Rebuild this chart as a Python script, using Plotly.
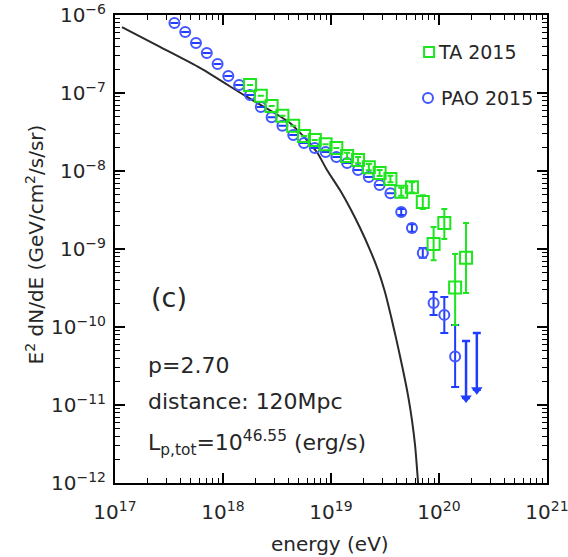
import numpy as np
import plotly.graph_objects as go

# ---------------- data ----------------
# Model spectrum (p = 2.70, 120 Mpc): energy [eV], E^2 dN/dE [GeV/cm^2/s/sr]
model_E = [1.16e17, 2.61e17, 6.12e17, 1.67e18, 3.03e18, 4.20e18, 5.16e18,
           6.2e18, 7.5e18, 9.18e18, 1.21e19, 1.50e19, 1.86e19, 2.30e19,
           2.72e19, 3.16e19, 3.59e19, 4.08e19, 4.64e19, 5.16e19, 5.62e19,
           6.0e19, 6.40e19, 6.6e19]
model_F = [7.0e-7, 3.9e-7, 2.1e-7, 8.9e-8, 5.5e-8, 4.1e-8, 3.1e-8,
           2.35e-8, 1.7e-8, 1.03e-8, 5.7e-9, 3.36e-9, 1.86e-9, 9.7e-10,
           5.4e-10, 2.81e-10, 1.38e-10, 6.4e-11, 2.81e-11, 1.34e-11, 6.4e-12,
           3.07e-12, 1.0e-12, 5.2e-13]

# Pierre Auger Observatory 2015
pao_E = [3.55e17, 4.47e17, 5.62e17, 7.08e17, 8.91e17, 1.12e18, 1.41e18,
         1.78e18, 2.24e18, 2.82e18, 3.55e18, 4.47e18, 5.62e18, 7.08e18,
         8.91e18, 1.12e19, 1.41e19, 1.78e19, 2.24e19, 2.82e19, 3.55e19,
         4.47e19, 5.62e19, 7.08e19, 8.91e19, 1.12e20, 1.41e20]
pao_F = [7.9e-7, 6.05e-7, 4.38e-7, 3.26e-7, 2.35e-7, 1.65e-7, 1.27e-7,
         9.4e-8, 6.6e-8, 4.9e-8, 3.8e-8, 2.9e-8, 2.29e-8, 1.97e-8,
         1.75e-8, 1.51e-8, 1.27e-8, 1.03e-8, 8.4e-9, 6.6e-9, 5.2e-9,
         2.98e-9, 1.86e-9, 8.9e-10, 2.03e-10, 1.43e-10, 4.2e-11]
pao_hi = [None] * 21 + [3.26e-9, 2.08e-9, 1.03e-9, 2.81e-10, 2.43e-10, 1.06e-10]
pao_lo = [None] * 21 + [2.72e-9, 1.66e-9, 7.7e-10, 1.43e-10, 8.4e-11, 1.7e-11]

# PAO upper limits
pao_ul_E = [1.78e20, 2.24e20]
pao_ul_F = [6.6e-11, 8.4e-11]
ul_arrow_decades = 0.73

# Telescope Array 2015
ta_E = [1.78e18, 2.24e18, 2.82e18, 3.55e18, 4.47e18, 5.62e18, 7.08e18,
        8.91e18, 1.12e19, 1.41e19, 1.78e19, 2.24e19, 2.82e19, 3.55e19,
        4.47e19, 5.62e19, 7.08e19, 8.91e19, 1.12e20, 1.41e20, 1.78e20]
ta_F = [1.27e-7, 9.2e-8, 6.8e-8, 5.1e-8, 3.8e-8, 2.8e-8, 2.5e-8,
        2.2e-8, 1.97e-8, 1.56e-8, 1.38e-8, 1.12e-8, 9.4e-9, 7.9e-9,
        5.4e-9, 6.2e-9, 4.0e-9, 1.16e-9, 2.15e-9, 3.2e-10, 7.7e-10]
ta_hi = [None] * 9 + [1.71e-8, 1.51e-8, 1.23e-8, 1.03e-8, 8.7e-9, 6.1e-9,
                      7.2e-9, 4.9e-9, 1.91e-9, 3.26e-9, 8.6e-10, 2.15e-9]
ta_lo = [None] * 9 + [1.42e-8, 1.26e-8, 1.02e-8, 8.6e-9, 7.2e-9, 4.8e-9,
                      5.3e-9, 3.25e-9, 7.2e-10, 1.34e-9, 1.06e-10, 2.73e-10]

x_ticks = [1e17, 1e18, 1e19, 1e20, 1e21]
x_ticktext = ["10<sup>17</sup>", "10<sup>18</sup>", "10<sup>19</sup>",
              "10<sup>20</sup>", "10<sup>21</sup>"]
y_ticks = [1e-12, 1e-11, 1e-10, 1e-9, 1e-8, 1e-7, 1e-6]
y_ticktext = ["10<sup>\u221212</sup>", "10<sup>\u221211</sup>",
              "10<sup>\u221210</sup>", "10<sup>\u22129</sup>",
              "10<sup>\u22128</sup>", "10<sup>\u22127</sup>",
              "10<sup>\u22126</sup>"]


def bars(val, hi, lo):
    plus = [0 if h is None else h - v for v, h in zip(val, hi)]
    minus = [0 if l is None else v - l for v, l in zip(val, lo)]
    return plus, minus


FONT = "DejaVu Sans"
TXT = "#262626"
BLUE = "#4257ff"
BLUE_BAR = "#1f3dff"
GREEN = "#1ee61e"

fig = go.Figure()

# model curve
fig.add_trace(go.Scatter(x=model_E, y=model_F, mode="lines",
                         line=dict(color="#2a2a2a", width=2, shape="spline",
                                   smoothing=0.6),
                         hoverinfo="skip"))

# PAO points
p_plus, p_minus = bars(pao_F, pao_hi, pao_lo)
fig.add_trace(go.Scatter(
    x=pao_E, y=pao_F, mode="markers",
    marker=dict(symbol="circle-open", size=10, color=BLUE,
                line=dict(width=2, color=BLUE)),
    error_y=dict(type="data", symmetric=False, array=p_plus,
                 arrayminus=p_minus, color=BLUE_BAR, thickness=2, width=4)))

# PAO upper limits: bar down from the limit, arrowhead at its end
ul_tip = [f * 10 ** (-ul_arrow_decades) for f in pao_ul_F]
fig.add_trace(go.Scatter(
    x=pao_ul_E, y=pao_ul_F, mode="markers",
    marker=dict(size=1, color="rgba(0,0,0,0)"),
    error_y=dict(type="data", symmetric=False,
                 array=[0] * len(pao_ul_F),
                 arrayminus=[f - t for f, t in zip(pao_ul_F, ul_tip)],
                 color=BLUE_BAR, thickness=2.5, width=4)))
fig.add_trace(go.Scatter(
    x=pao_ul_E, y=ul_tip, mode="markers",
    marker=dict(symbol="triangle-down", size=10, color=BLUE_BAR,
                line=dict(width=0))))

# TA points
t_plus, t_minus = bars(ta_F, ta_hi, ta_lo)
fig.add_trace(go.Scatter(
    x=ta_E, y=ta_F, mode="markers",
    marker=dict(symbol="square-open", size=12, color=GREEN,
                line=dict(width=2, color=GREEN)),
    error_y=dict(type="data", symmetric=False, array=t_plus,
                 arrayminus=t_minus, color=GREEN, thickness=2, width=3)))

axis_common = dict(
    type="log", showline=True, linecolor="black", linewidth=2,
    mirror="allticks", ticks="inside", ticklen=10, tickwidth=1.5,
    tickcolor="black", showgrid=False, zeroline=False, automargin=False,
    ticklabeloverflow="allow",
    tickfont=dict(family=FONT, size=20, color=TXT),
)

fig.update_xaxes(
    range=[16.99999, 21.00001], tickmode="array", tickvals=x_ticks,
    ticktext=x_ticktext, ticklabelstandoff=10,
    minor=dict(ticks="inside", ticklen=5, tickwidth=1.2, tickcolor="black",
               dtick="D1", showgrid=False),
    **axis_common)
fig.update_yaxes(
    range=[-12.00001, -5.99999], tickmode="array", tickvals=y_ticks,
    ticktext=y_ticktext, ticklabelstandoff=3,
    minor=dict(ticks="inside", ticklen=5, tickwidth=1.2, tickcolor="black",
               dtick="D1", showgrid=False),
    **axis_common)


def ann(text, x, y, size=20, xanchor="left", **kw):
    fig.add_annotation(text=text, x=x, y=y, xref="paper", yref="paper",
                       xanchor=xanchor, yanchor="middle", showarrow=False,
                       font=dict(family=FONT, size=size, color=TXT), **kw)


# axis titles
ann("energy (eV)", 0.498, -0.130, size=20, xanchor="center")
ann("E<sup>2</sup> dN/dE (GeV/cm<sup>2</sup>/s/sr)", -0.185, 0.510,
    size=20, xanchor="center", textangle=-90)

# panel label and parameters
ann("(c)", 0.078, 0.397, size=27)
ann("p=2.70", 0.072, 0.252, size=22)
ann("distance: 120Mpc", 0.072, 0.175, size=22)
ann("L<sub>p,tot</sub>=10<sup>46.55</sup> (erg/s)", 0.072, 0.085, size=22)

# legend
ann("TA 2015", 0.743, 0.921, size=19)
ann("PAO 2015", 0.750, 0.8226, size=19)
fig.add_shape(type="rect", xref="paper", yref="paper",
              xsizemode="pixel", ysizemode="pixel",
              xanchor=0.727, yanchor=0.921, x0=-5, x1=5, y0=-5, y1=5,
              line=dict(color=GREEN, width=2))
fig.add_shape(type="circle", xref="paper", yref="paper",
              xsizemode="pixel", ysizemode="pixel",
              xanchor=0.7245, yanchor=0.8226, x0=-5, x1=5, y0=-5, y1=5,
              line=dict(color=BLUE, width=2))

fig.update_layout(
    width=568, height=557, showlegend=False,
    margin=dict(l=115, r=21, t=15, b=74),
    plot_bgcolor="white", paper_bgcolor="white",
)

fig.write_html("out.html")
